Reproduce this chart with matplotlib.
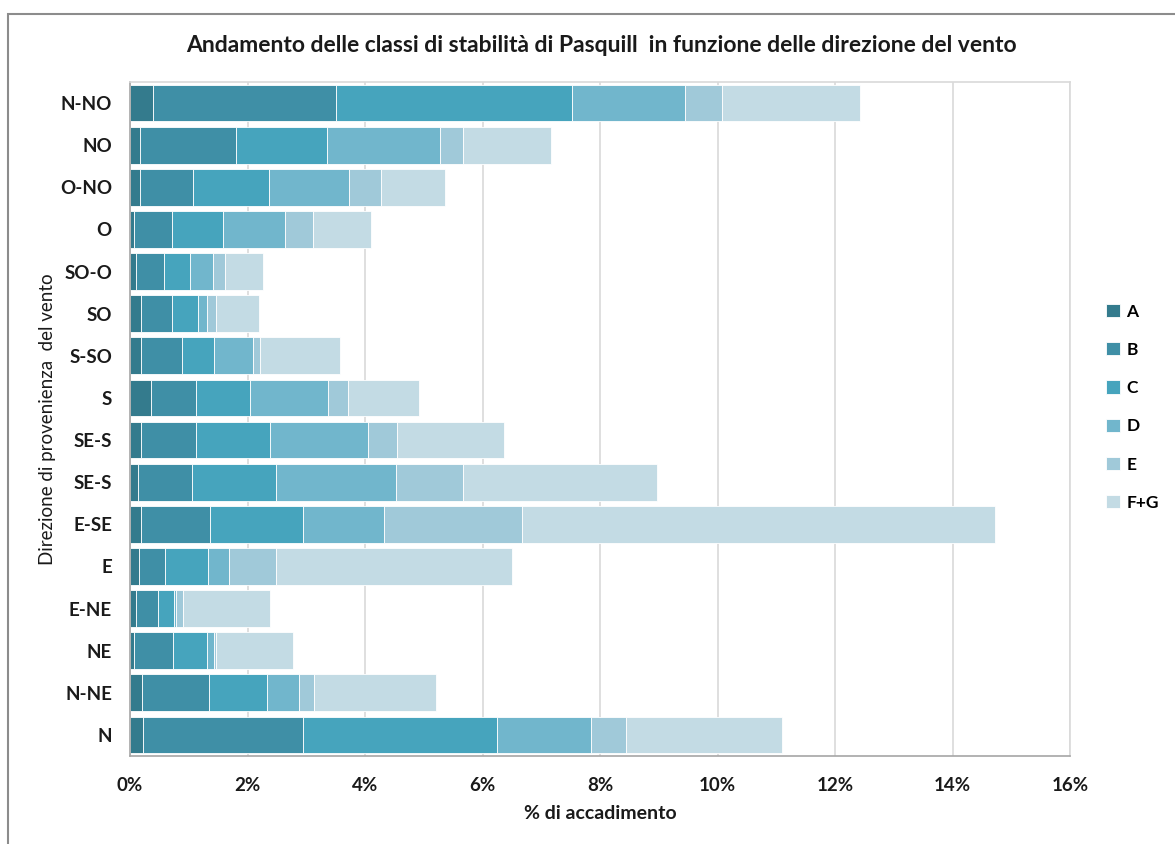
import numpy as np
import matplotlib.pyplot as plt
from matplotlib.ticker import PercentFormatter
from matplotlib.patches import Rectangle

plt.rcParams['font.family'] = ['Lato', 'DejaVu Sans']

# direzioni dal basso (N) verso l'alto (N-NO)
directions = ['N', 'N-NE', 'NE', 'E-NE', 'E', 'E-SE', 'SE-S', 'SE-S',
              'S', 'S-SO', 'SO', 'SO-O', 'O', 'O-NO', 'NO', 'N-NO']

classes = ['A', 'B', 'C', 'D', 'E', 'F+G']

# % di accadimento per classe di stabilita'
cls_a = [0.22, 0.21, 0.07, 0.10, 0.15, 0.18, 0.13, 0.18,
         0.35, 0.18, 0.18, 0.11, 0.07, 0.17, 0.17, 0.39]
cls_b = [2.73, 1.13, 0.66, 0.37, 0.44, 1.18, 0.93, 0.94,
         0.77, 0.70, 0.53, 0.47, 0.64, 0.91, 1.63, 3.12]
cls_c = [3.30, 0.99, 0.58, 0.28, 0.74, 1.59, 1.43, 1.26,
         0.92, 0.55, 0.44, 0.44, 0.87, 1.28, 1.55, 4.02]
cls_d = [1.59, 0.54, 0.12, 0.04, 0.36, 1.37, 2.03, 1.67,
         1.33, 0.66, 0.16, 0.39, 1.06, 1.36, 1.92, 1.92]
cls_e = [0.61, 0.27, 0.04, 0.12, 0.80, 2.35, 1.15, 0.50,
         0.34, 0.12, 0.16, 0.20, 0.47, 0.55, 0.40, 0.62]
cls_fg = [2.65, 2.07, 1.31, 1.47, 4.01, 8.05, 3.30, 1.81,
          1.21, 1.36, 0.73, 0.65, 1.00, 1.10, 1.49, 2.35]

colors = ['#347b8d', '#3f8fa6', '#46a4bd', '#71b6cc', '#a0c9d9', '#c3dbe4']

fig = plt.figure(figsize=(11.75, 8.44), dpi=100)
ax = fig.add_axes([130 / 1175, 1 - 756 / 844, 940 / 1175, 674 / 844])

y = np.arange(len(directions))
left = np.zeros(len(directions))
for name, vals, col in zip(classes, [cls_a, cls_b, cls_c, cls_d, cls_e, cls_fg], colors):
    vals = np.array(vals)
    ax.barh(y, vals, left=left, height=0.87, color=col, label=name,
            edgecolor='#ffffff', linewidth=0.6, zorder=2)
    left += vals

ax.set_xlim(0, 16)
ax.set_ylim(-0.5, len(directions) - 0.5)
ax.set_xticks(np.arange(0, 17, 2))
ax.xaxis.set_major_formatter(PercentFormatter(xmax=100, decimals=0))
ax.set_yticks(y)
ax.set_yticklabels(directions)
ax.tick_params(axis='both', length=0, labelsize=13.5, colors='#1a1a1a')
ax.tick_params(axis='y', pad=13)
ax.tick_params(axis='x', pad=15)
for lab in ax.get_xticklabels() + ax.get_yticklabels():
    lab.set_fontweight('bold')

ax.grid(axis='x', color='#d9d9d9', linewidth=1.2, zorder=0)
ax.set_axisbelow(True)
for side in ['top', 'right']:
    ax.spines[side].set_color('#d9d9d9')
    ax.spines[side].set_linewidth(1.2)
for side in ['left', 'bottom']:
    ax.spines[side].set_color('#a6a6a6')
    ax.spines[side].set_linewidth(1.2)

ax.set_xlabel('% di accadimento', fontsize=14, fontweight='bold', labelpad=8, color='#1a1a1a')
ax.set_ylabel('Direzione di provenienza  del vento', fontsize=13.5, labelpad=3, color='#1a1a1a')
fig.text(0.512, 1 - 45 / 844, 'Andamento delle classi di stabilità di Pasquill  in funzione delle direzione del vento',
         ha='center', va='center', fontsize=16.5, fontweight='bold', color='#1a1a1a')

leg = fig.legend(loc='upper left', bbox_to_anchor=(1090 / 1175, 1 - 288 / 844),
                 frameon=False, handlelength=0.8, handleheight=0.8, handletextpad=0.4,
                 labelspacing=1.28, prop={'size': 12.5, 'weight': 'bold'})

# cornice grigia del grafico
fig.patches.append(Rectangle((8 / 1175, -0.1), 1.2, 1 - 14 / 844 + 0.1, transform=fig.transFigure,
                             fill=False, edgecolor='#8c8c8c', linewidth=1.5))

fig.savefig('out.png', dpi=100)
